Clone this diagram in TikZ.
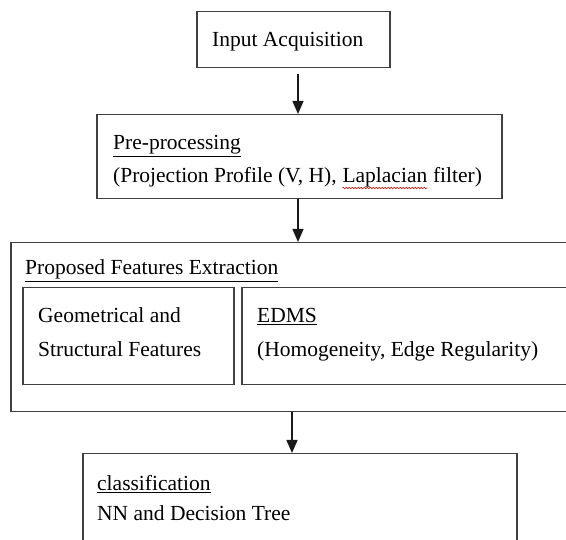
\documentclass[tikz,border=0pt]{standalone}
\usepackage{fontspec}
\setmainfont{Liberation Serif}
\usetikzlibrary{arrows.meta,decorations.pathmorphing}

\tikzset{
  box/.style={draw=black!75, line width=1.5pt, inner sep=0pt, anchor=north west},
  txt/.style={anchor=base west, inner sep=0pt, text=black, font=\fontsize{21.5}{26}\selectfont},
  flow/.style={-{Triangle[length=13pt,width=11pt]}, line width=1.4pt, draw=black!90, fill=black!90},
  spell/.style={draw=red!80!black, line width=0.5pt, decorate, decoration={snake, amplitude=0.7pt, segment length=3pt}},
}

\begin{document}
\begin{tikzpicture}[x=1pt,y=-1pt]
\useasboundingbox (0,0) rectangle (566,540);

% boxes of the flow
\node[box, minimum width=193pt, minimum height=56pt] (acq) at (196,11) {};
\node[box, minimum width=405pt, minimum height=84pt] (pre) at (96,114) {};
\node[box, minimum width=565pt, minimum height=169pt] (fe) at (10,242) {};
\node[box, minimum width=211pt, minimum height=97pt] (geo) at (22,287) {};
\node[box, minimum width=331pt, minimum height=97pt] (edms) at (241,287) {};
\node[box, minimum width=434pt, minimum height=95pt] (cls) at (82,453) {};

% texts
\node[txt] (acqtxt) at (212,47) {Input Acquisition};
\node[txt] (pretitle) at (113,150) {\underline{Pre-processing}};
\node[txt] (prof) at (113,183) {(Projection Profile (V, H),};
\node[txt] (lap) at ([xshift=5.4pt]prof.base east) {Laplacian};
\node[txt] (filt) at ([xshift=5.4pt]lap.base east) {filter)};
\node[txt] (fetitle) at (25,275) {\underline{Proposed Features Extraction}};
\node[txt] (geo1) at (38,323) {Geometrical and};
\node[txt] (geo2) at (38,357) {Structural Features};
\node[txt] (edms1) at (257,323) {\underline{EDMS}};
\node[txt] (edms2) at (257,357) {(Homogeneity, Edge Regularity)};
\node[txt] (clstitle) at (97,491) {\underline{classification}};
\node[txt] (clstxt) at (97,521) {NN and Decision Tree};

\draw[spell] ([yshift=-5pt]lap.base west) -- ([yshift=-5pt]lap.base east);

% arrows
\coordinate (a1) at (298,0);
\coordinate (a3) at (292,0);
\draw[flow] ([yshift=-6pt]acq.south -| a1) -- (pre.north -| a1);
\draw[flow] (pre.south -| a1) -- (fe.north -| a1);
\draw[flow] (fe.south -| a3) -- (cls.north -| a3);
\end{tikzpicture}
\end{document}
